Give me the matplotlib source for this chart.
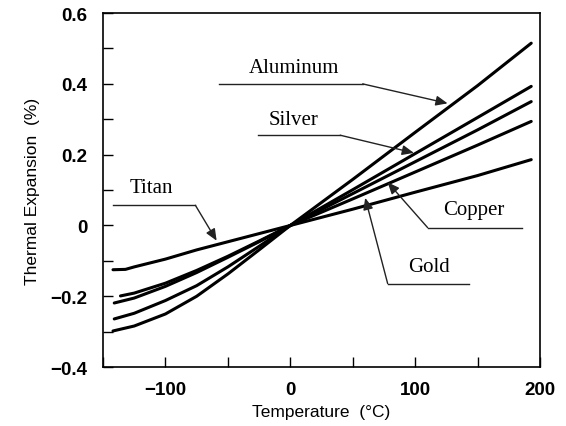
import numpy as np
import matplotlib.pyplot as plt

# thermal expansion (%) relative to 0 degC
temp_al = [-142, -125, -100, -75, -50, -25, 0, 50, 100, 150, 193]
aluminum = [-0.298, -0.284, -0.250, -0.200, -0.137, -0.069, 0, 0.130, 0.263, 0.395, 0.515]

temp_ag = [-141, -125, -100, -75, -50, -25, 0, 50, 100, 150, 193]
silver = [-0.264, -0.248, -0.212, -0.170, -0.117, -0.059, 0, 0.101, 0.203, 0.305, 0.393]

temp_cu = [-141, -125, -100, -75, -50, -25, 0, 50, 100, 150, 193]
copper = [-0.219, -0.205, -0.172, -0.133, -0.090, -0.046, 0, 0.090, 0.180, 0.270, 0.350]

temp_au = [-136, -125, -100, -75, -50, -25, 0, 50, 100, 150, 193]
gold = [-0.199, -0.191, -0.163, -0.127, -0.087, -0.044, 0, 0.075, 0.151, 0.227, 0.294]

temp_ti = [-142, -132, -125, -100, -75, -50, -25, 0, 50, 100, 150, 193]
titan = [-0.125, -0.124, -0.117, -0.095, -0.069, -0.046, -0.023, 0, 0.046, 0.094, 0.141, 0.186]

series = [
    (temp_al, aluminum),
    (temp_ag, silver),
    (temp_cu, copper),
    (temp_au, gold),
    (temp_ti, titan),
]

# label text, text centre, leader start, bend, arrow tip (data coords)
callouts = [
    ("Aluminum", (3, 0.447), (-57, 0.400), (58, 0.400), (126, 0.345)),
    ("Silver", (3, 0.300), (-26, 0.255), (40, 0.255), (99, 0.205)),
    ("Titan", (-111, 0.108), (-142, 0.057), (-76, 0.057), (-59, -0.043)),
    ("Copper", (147, 0.045), (186, -0.006), (110, -0.006), (78, 0.122)),
    ("Gold", (111, -0.115), (143, -0.164), (78, -0.164), (60, 0.078)),
]

fig = plt.figure(figsize=(5.66, 4.27), dpi=100)
ax = fig.add_axes([0.182, 0.138, 0.772, 0.829])

for t, v in series:
    ax.plot(t, v, color="black", lw=2.2, solid_capstyle="round")

for label, txt, start, bend, tip in callouts:
    ax.text(txt[0], txt[1], label, family="Liberation Serif", fontsize=15,
            ha="center", va="center")
    ax.plot([start[0], bend[0]], [start[1], bend[1]], color="#222222", lw=1.0)
    ax.annotate("", xy=tip, xytext=bend,
                arrowprops=dict(arrowstyle="-|>,head_length=0.7,head_width=0.3",
                                color="#222222", lw=1.0, shrinkA=0, shrinkB=0))

ax.set_xlim(-150, 200)
ax.set_ylim(-0.4, 0.6)

xt = np.arange(-150, 201, 50)
ax.set_xticks(xt)
ax.set_xticklabels(["" if v % 100 else ("0" if v == 0 else "\u2212%d" % -v if v < 0 else "%d" % v) for v in xt])
yt = np.round(np.arange(-0.4, 0.61, 0.1), 1)
ax.set_yticks(yt)
ylabels = []
for v in yt:
    if round(v * 10) % 2:
        ylabels.append("")
    elif v == 0:
        ylabels.append("0")
    else:
        ylabels.append(("\u2212%.1f" % -v) if v < 0 else "%.1f" % v)
ax.set_yticklabels(ylabels)

ax.tick_params(direction="in", length=7, width=1, labelsize=13.5)
ax.tick_params(axis="x", pad=10)
ax.tick_params(axis="y", pad=11)
for lab in ax.get_xticklabels() + ax.get_yticklabels():
    lab.set_family("Liberation Sans")
    lab.set_fontweight("bold")
for s in ax.spines.values():
    s.set_linewidth(1.2)

ax.set_xlabel("Temperature  (°C)", family="Liberation Sans", fontsize=12.5, labelpad=4)
ax.set_ylabel("Thermal Expansion  (%)", family="Liberation Sans", fontsize=12.5, labelpad=8)

fig.savefig("out.png", dpi=100)
